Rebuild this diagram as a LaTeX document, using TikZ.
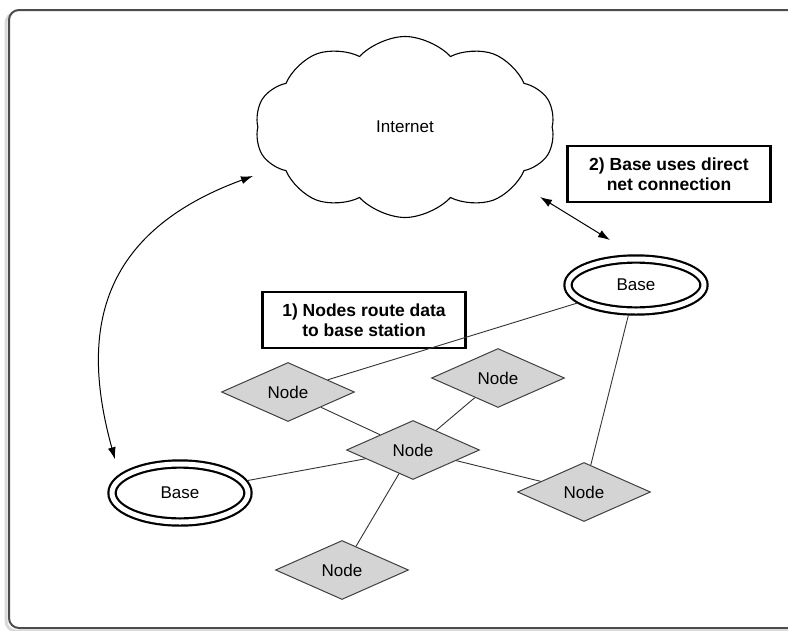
\documentclass[tikz,border=0pt]{standalone}
\usepackage{fontspec}
\setmainfont{Liberation Sans}
\usetikzlibrary{arrows.meta,shapes.geometric,shapes.symbols}

\begin{document}
\begin{tikzpicture}[x=1pt,y=-1pt, >={Latex[length=12pt,width=8pt]},
  font=\fontsize{17}{20}\selectfont,
  nd/.style={diamond,draw=black!75,fill=black!17,line width=1pt,aspect=2.25,minimum width=133pt,minimum height=59pt,inner sep=0pt},
  base/.style={ellipse,draw,line width=2.2pt,double=white,double distance=5pt,minimum width=136pt,minimum height=52pt,outer sep=4.7pt},
  note/.style={draw,line width=2.2pt,font=\fontsize{17.5}{20}\selectfont\bfseries,align=center,minimum width=203pt,minimum height=56pt},
  link/.style={line width=0.9pt,black!80}]
\useasboundingbox (0,0) rectangle (788,630);
\clip (0,0) rectangle (788,630);
% frame, its right side lies off the page
\draw[black!15,line width=3pt,rounded corners=10pt] (900,13) -- (6,13) -- (6,631) -- (900,631);
\draw[black!70,line width=2pt,fill=white,rounded corners=10pt] (900,10) -- (9,10) -- (9,628) -- (900,628);

\node[cloud,draw,line width=1.1pt,cloud puffs=10,cloud puff arc=95,aspect=1.65,minimum width=300pt,minimum height=181pt,inner sep=0pt,shape border rotate=8] (net) at (405,127) {Internet};
\node[note] (direct) at (669,174) {2) Base uses direct\\net connection};
\node[note] (route) at (364,320) {1) Nodes route data\\to base station};
\node[base] (baseR) at (636,285) {Base};
\node[base,minimum height=58pt] (baseL) at (180,493) {Base};
\node[nd] (n1) at (288,392) {Node};
\node[nd] (n3) at (498,378) {Node};
\node[nd] (n2) at (413,450) {Node};
\node[nd] (n4) at (584,492) {Node};
\node[nd] (n5) at (342,570) {Node};
\coordinate (netL) at (253,176);
\coordinate (netR) at (540,197);
\coordinate (topR) at (610,240);

\draw[link] (n1)--(baseR);
\draw[link] (n1)--(n2);
\draw[link] (n2)--(n3);
\draw[link] (n2)--(baseL);
\draw[link] (n2)--(n4);
\draw[link] (n2)--(n5);
\draw[link] (n4)--(baseR);
\draw[<->,line width=1pt] (netR)--(topR);
\draw[<->,line width=1pt] ([xshift=-65pt]baseL.north) .. controls (82,340) and (92,235) .. (netL);
\end{tikzpicture}
\end{document}
